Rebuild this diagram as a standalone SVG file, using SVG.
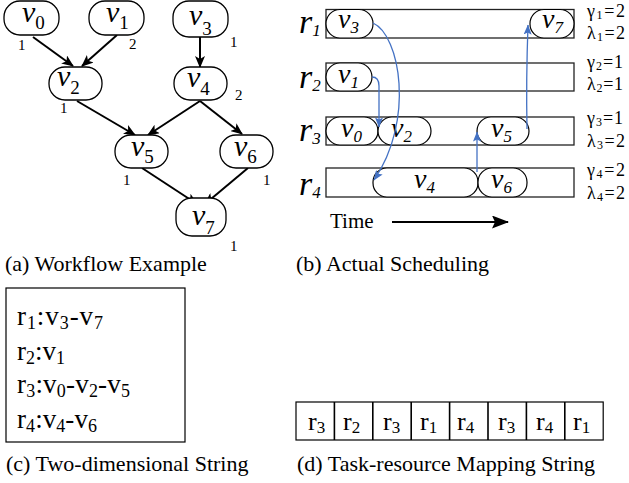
<svg xmlns="http://www.w3.org/2000/svg" width="629" height="483" viewBox="0 0 629 483">
<style>
text{font-family:"Liberation Serif","Times New Roman",serif;fill:#000}
.cap{font-size:22px}
.node{fill:#fff;stroke:#000;stroke-width:1.3}
.vi{font-size:30px;font-style:italic}
.vs{font-size:19px}
.w{font-size:15px}
.edge{stroke:#000;stroke-width:2;fill:none;marker-end:url(#ah)}
.lane{fill:none;stroke:#222;stroke-width:1.3}
.pill{fill:#fff;stroke:#000;stroke-width:1.2}
.bv{font-size:28px;font-style:italic}
.bs{font-size:17px;font-style:italic}
.rl{font-size:34px;font-style:italic}
.rs{font-size:17px;font-style:italic}
.gl{font-size:18px}
.gs{font-size:12px}
.blue{stroke:#4472C4;stroke-width:1.3;fill:none;marker-end:url(#bh)}
.str{font-size:27px}
.ss{font-size:18px}
.cell{font-size:26px}
.cs{font-size:17px}
</style>
<defs>
<marker id="ah" viewBox="0 0 12 10" refX="11" refY="5" markerWidth="12" markerHeight="10" markerUnits="userSpaceOnUse" orient="auto"><path d="M0,0 L12,5 L0,10 L3,5 z" fill="#000"/></marker>
<marker id="bh" viewBox="0 0 10 8" refX="9.5" refY="4" markerWidth="10" markerHeight="8" markerUnits="userSpaceOnUse" orient="auto"><path d="M0,0 L10,4 L0,8 L2,4 z" fill="#4472C4"/></marker>
<marker id="th" viewBox="0 0 17 13" refX="16" refY="6.5" markerWidth="17" markerHeight="13" markerUnits="userSpaceOnUse" orient="auto"><path d="M0,0 L17,6.5 L0,13 L3,6.5 z" fill="#000"/></marker>
</defs>

<!-- (a) Workflow -->
<g id="a-edges">
<line class="edge" x1="33" y1="37" x2="73" y2="66"/>
<line class="edge" x1="117" y1="35" x2="82" y2="66"/>
<line class="edge" x1="200" y1="37" x2="200" y2="67"/>
<line class="edge" x1="77" y1="101" x2="135" y2="135"/>
<line class="edge" x1="200" y1="101" x2="148" y2="135"/>
<line class="edge" x1="200" y1="101" x2="242" y2="134"/>
<line class="edge" x1="142" y1="168" x2="197" y2="204"/>
<line class="edge" x1="248" y1="168" x2="205" y2="204"/>
</g>
<g id="a-v0"><rect class="node" x="4" y="1" width="55" height="34" rx="16"/><text x="22" y="22"><tspan class="vi">v</tspan><tspan class="vs" dy="7">0</tspan></text><text class="w" x="18" y="50">1</text></g>
<g id="a-v1"><rect class="node" x="89" y="1" width="55" height="34" rx="16"/><text x="106" y="22"><tspan class="vi">v</tspan><tspan class="vs" dy="7">1</tspan></text><text class="w" x="129" y="49">2</text></g>
<g id="a-v3"><rect class="node" x="173" y="1" width="55" height="36" rx="16"/><text x="189" y="25"><tspan class="vi">v</tspan><tspan class="vs" dy="10">3</tspan></text><text class="w" x="230" y="47">1</text></g>
<g id="a-v2"><rect class="node" x="49" y="67" width="53" height="33" rx="16"/><text x="57" y="86"><tspan class="vi">v</tspan><tspan class="vs" dy="8">2</tspan></text><text class="w" x="60" y="113">1</text></g>
<g id="a-v4"><rect class="node" x="174" y="67" width="53" height="33" rx="16"/><text x="187" y="87"><tspan class="vi">v</tspan><tspan class="vs" dy="8">4</tspan></text><text class="w" x="235" y="100">2</text></g>
<g id="a-v5"><rect class="node" x="115" y="135" width="53" height="33" rx="16"/><text x="131" y="156"><tspan class="vi">v</tspan><tspan class="vs" dy="7">5</tspan></text><text class="w" x="123" y="185">1</text></g>
<g id="a-v6"><rect class="node" x="220" y="135" width="53" height="33" rx="16"/><text x="234" y="156"><tspan class="vi">v</tspan><tspan class="vs" dy="7">6</tspan></text><text class="w" x="263" y="185">1</text></g>
<g id="a-v7"><rect class="node" x="176" y="198" width="50" height="38" rx="16"/><text x="192" y="225"><tspan class="vi">v</tspan><tspan class="vs" dy="9">7</tspan></text><text class="w" x="230" y="251">1</text></g>
<text class="cap" x="5" y="271">(a) Workflow Example</text>

<!-- (b) Scheduling -->
<g id="lanes">
<rect class="lane" x="326" y="9.5" width="248" height="28.5"/>
<rect class="lane" x="326" y="63" width="248" height="28"/>
<rect class="lane" x="326" y="117" width="248" height="28"/>
<rect class="lane" x="326" y="168" width="248" height="29"/>
</g>
<g id="lane-labels">
<text x="299" y="33"><tspan class="rl">r</tspan><tspan class="rs" dy="3">1</tspan></text>
<text x="299" y="88"><tspan class="rl">r</tspan><tspan class="rs" dy="3">2</tspan></text>
<text x="299" y="141"><tspan class="rl">r</tspan><tspan class="rs" dy="3">3</tspan></text>
<text x="299" y="195"><tspan class="rl">r</tspan><tspan class="rs" dy="3">4</tspan></text>
</g>
<g id="b-v3"><rect class="pill" x="326" y="9.5" width="47" height="28.5" rx="14"/><text x="338" y="28"><tspan class="bv">v</tspan><tspan class="bs" dy="5">3</tspan></text></g>
<g id="b-v7"><rect class="pill" x="530" y="9.5" width="44" height="28.5" rx="14"/><text x="542" y="28"><tspan class="bv">v</tspan><tspan class="bs" dy="5">7</tspan></text></g>
<g id="b-v1"><rect class="pill" x="326" y="63" width="46" height="28" rx="14"/><text x="338" y="83"><tspan class="bv">v</tspan><tspan class="bs" dy="5">1</tspan></text></g>
<g id="b-v0"><rect class="pill" x="326" y="117" width="52" height="28" rx="14"/><text x="341" y="137"><tspan class="bv">v</tspan><tspan class="bs" dy="5">0</tspan></text></g>
<g id="b-v2"><rect class="pill" x="378" y="117" width="53" height="28" rx="14"/><text x="391" y="137"><tspan class="bv">v</tspan><tspan class="bs" dy="5">2</tspan></text></g>
<g id="b-v5"><rect class="pill" x="477" y="117" width="52" height="28" rx="14"/><text x="491" y="137"><tspan class="bv">v</tspan><tspan class="bs" dy="5">5</tspan></text></g>
<g id="b-v4"><rect class="pill" x="373" y="168" width="105" height="29" rx="14"/><text x="414" y="188"><tspan class="bv">v</tspan><tspan class="bs" dy="5">4</tspan></text></g>
<g id="b-v6"><rect class="pill" x="478" y="168" width="49" height="29" rx="14"/><text x="491" y="188"><tspan class="bv">v</tspan><tspan class="bs" dy="5">6</tspan></text></g>
<g id="b-edges">
<path class="blue" d="M373,23 C400,35 415,120 374,180"/>
<path class="blue" d="M372,77 Q379,77 379,86 L379,127"/>
<path class="blue" d="M527,129 Q526,80 528,25"/>
<path class="blue" d="M477,172 L477,132"/>
</g>
<g id="params">
<text class="gl" x="587" y="17" textLength="38" lengthAdjust="spacing">γ<tspan class="gs" dy="2">1</tspan><tspan dy="-2">=2</tspan></text>
<text class="gl" x="587" y="39" textLength="38" lengthAdjust="spacing">λ<tspan class="gs" dy="2">1</tspan><tspan dy="-2">=2</tspan></text>
<text class="gl" x="587" y="68" textLength="36" lengthAdjust="spacing">γ<tspan class="gs" dy="2">2</tspan><tspan dy="-2">=1</tspan></text>
<text class="gl" x="587" y="90" textLength="36" lengthAdjust="spacing">λ<tspan class="gs" dy="2">2</tspan><tspan dy="-2">=1</tspan></text>
<text class="gl" x="587" y="124" textLength="36" lengthAdjust="spacing">γ<tspan class="gs" dy="2">3</tspan><tspan dy="-2">=1</tspan></text>
<text class="gl" x="587" y="147" textLength="38" lengthAdjust="spacing">λ<tspan class="gs" dy="2">3</tspan><tspan dy="-2">=2</tspan></text>
<text class="gl" x="587" y="176" textLength="38" lengthAdjust="spacing">γ<tspan class="gs" dy="2">4</tspan><tspan dy="-2">=2</tspan></text>
<text class="gl" x="587" y="199" textLength="38" lengthAdjust="spacing">λ<tspan class="gs" dy="2">4</tspan><tspan dy="-2">=2</tspan></text>
</g>
<g id="time">
<text x="330" y="228" style="font-size:21px">Time</text>
<line x1="392" y1="222" x2="508" y2="222" stroke="#000" stroke-width="2" marker-end="url(#th)"/>
</g>
<text class="cap" x="296" y="271">(b) Actual Scheduling</text>

<!-- (c) Two-dimensional string -->
<g id="c-box">
<rect x="6" y="288" width="179" height="154" fill="none" stroke="#000" stroke-width="1.2"/>
<text x="17" y="325" textLength="86" lengthAdjust="spacing"><tspan class="str">r</tspan><tspan class="ss" dy="4">1</tspan><tspan class="str" dy="-4">:v</tspan><tspan class="ss" dy="4">3</tspan><tspan class="str" dy="-4">-v</tspan><tspan class="ss" dy="4">7</tspan></text>
<text x="17" y="360" textLength="48" lengthAdjust="spacing"><tspan class="str">r</tspan><tspan class="ss" dy="4">2</tspan><tspan class="str" dy="-4">:v</tspan><tspan class="ss" dy="4">1</tspan></text>
<text x="17" y="393" textLength="113" lengthAdjust="spacing"><tspan class="str">r</tspan><tspan class="ss" dy="4">3</tspan><tspan class="str" dy="-4">:v</tspan><tspan class="ss" dy="4">0</tspan><tspan class="str" dy="-4">-v</tspan><tspan class="ss" dy="4">2</tspan><tspan class="str" dy="-4">-v</tspan><tspan class="ss" dy="4">5</tspan></text>
<text x="17" y="428" textLength="80" lengthAdjust="spacing"><tspan class="str">r</tspan><tspan class="ss" dy="4">4</tspan><tspan class="str" dy="-4">:v</tspan><tspan class="ss" dy="4">4</tspan><tspan class="str" dy="-4">-v</tspan><tspan class="ss" dy="4">6</tspan></text>
</g>
<text class="cap" x="6" y="471">(c) Two-dimensional String</text>

<!-- (d) Mapping string -->
<g id="d-cells">
<rect x="296" y="402" width="307.2" height="38" fill="none" stroke="#000" stroke-width="1.2"/>
<path d="M334.4,402V440M372.8,402V440M411.2,402V440M449.6,402V440M488,402V440M526.4,402V440M564.8,402V440" stroke="#000" stroke-width="1.6"/>
<text x="308" y="430"><tspan class="cell">r</tspan><tspan class="cs" dy="3">3</tspan></text>
<text x="343" y="430"><tspan class="cell">r</tspan><tspan class="cs" dy="3">2</tspan></text>
<text x="383" y="430"><tspan class="cell">r</tspan><tspan class="cs" dy="3">3</tspan></text>
<text x="420" y="430"><tspan class="cell">r</tspan><tspan class="cs" dy="3">1</tspan></text>
<text x="457" y="430"><tspan class="cell">r</tspan><tspan class="cs" dy="3">4</tspan></text>
<text x="498" y="430"><tspan class="cell">r</tspan><tspan class="cs" dy="3">3</tspan></text>
<text x="536" y="430"><tspan class="cell">r</tspan><tspan class="cs" dy="3">4</tspan></text>
<text x="573" y="430"><tspan class="cell">r</tspan><tspan class="cs" dy="3">1</tspan></text>
</g>
<text class="cap" x="297" y="471">(d) Task-resource Mapping String</text>
</svg>
